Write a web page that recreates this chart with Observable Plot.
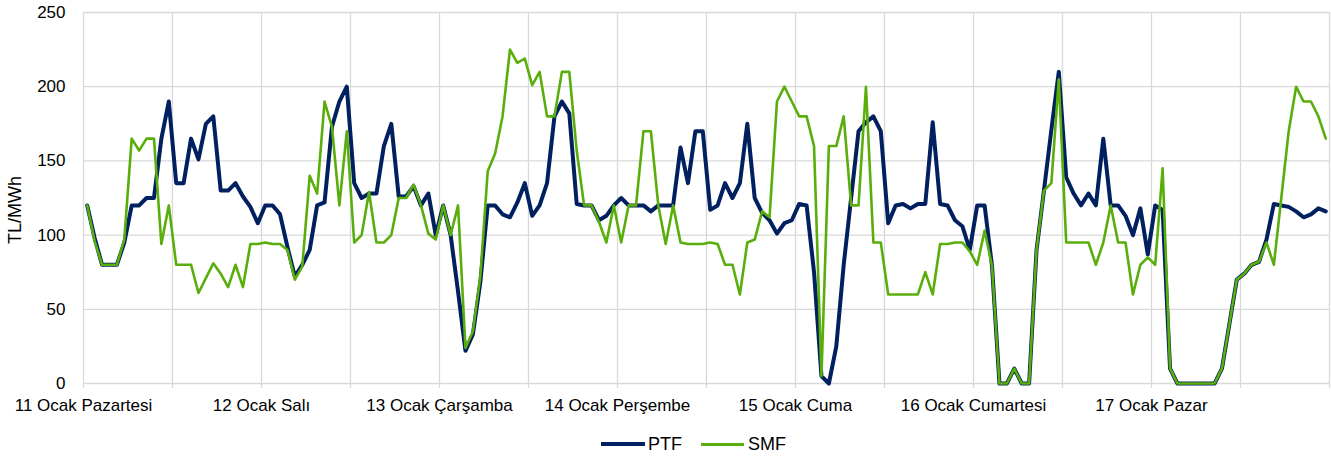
<!DOCTYPE html>
<html><head><meta charset="utf-8">
<script src="https://cdn.jsdelivr.net/npm/d3@7"></script>
<script src="https://cdn.jsdelivr.net/npm/@observablehq/plot@0.6"></script>
<style>
body{margin:0;background:#fff;font-family:"Liberation Sans",Arial,sans-serif;}
#legend{position:relative;height:37px;width:1331px;font-size:18px;color:#000;}
#legend .sw{position:absolute;}
#legend .lb{position:absolute;line-height:18px;white-space:nowrap;}
</style></head><body>
<div id="chart"></div>
<div id="legend">
  <div class="sw" style="left:601px;top:22px;width:44px;height:4px;background:#002060"></div>
  <div class="lb" style="left:648px;top:14.5px">PTF</div>
  <div class="sw" style="left:701px;top:22.5px;width:43px;height:3px;background:#5aae0c"></div>
  <div class="lb" style="left:748px;top:14.5px">SMF</div>
</div>
<script>
const days = ["11 Ocak Pazartesi", "12 Ocak Salı", "13 Ocak Çarşamba", "14 Ocak Perşembe", "15 Ocak Cuma", "16 Ocak Cumartesi", "17 Ocak Pazar"];
const dayStarts = [0, 24, 48, 72, 96, 120, 144];
const halfDayTicks = [0, 12, 24, 36, 48, 60, 72, 84, 96, 108, 120, 132, 144, 156, 168];
const yTicks = [0, 50, 100, 150, 200, 250];

const ptf = [
120,98,80,80,80,95,120,120,125,125,165,190,135,135,165,151,175,180,130,130,135,126,119,108,
120,120,114,92,72,80,90,120,122,173,190,200,135,125,128,128,160,175,126,126,133,120,128,100,
120,100,62,22,33,68,120,120,114,112,122,135,113,120,135,180,190,182,121,120,120,110,113,120,
125,120,120,120,116,120,120,120,159,135,170,170,117,120,135,125,135,175,125,115,110,101,108,110,
121,120,75,5,0,25,80,125,170,176,180,170,108,120,121,118,121,121,176,121,120,110,106,90,
120,120,79,0,0,10,0,0,90,130,171,210,139,128,120,128,120,165,120,120,113,100,118,87,
120,117,10,0,0,0,0,0,0,10,40,70,74,80,82,97,121,120,119,116,112,114,118,116];

const smf = [
120,96,80,80,80,97,165,157,165,165,94,120,80,80,80,61,71,81,74,65,80,65,94,94,
95,94,94,90,70,79,140,128,190,173,120,170,95,100,129,95,95,100,125,125,134,120,101,97,
120,100,120,24,35,72,143,155,180,225,216,219,201,210,180,180,210,210,157,120,120,109,95,120,
95,120,120,170,170,120,94,120,95,94,94,94,95,94,80,80,60,95,97,116,112,190,200,190,
180,180,160,5,160,160,180,120,120,200,95,95,60,60,60,60,60,75,60,94,94,95,95,89,
80,103,79,0,0,10,0,0,90,130,135,205,95,95,95,95,80,95,120,95,95,60,80,85,
80,145,10,0,0,0,0,0,0,10,40,70,74,80,82,95,80,125,170,200,190,190,180,165];

const rows = ptf.map((v, i) => ({hour: i, PTF: v, SMF: smf[i]}));
const gridPos = halfDayTicks.map(h => h - 0.5);
const dayLabel = new Map(dayStarts.map((h, i) => [h - 0.5, days[i]]));

const chart = Plot.plot({
  width: 1331, height: 420,
  marginLeft: 83, marginRight: 2, marginTop: 12, marginBottom: 37,
  style: {fontFamily: "'Liberation Sans', Arial, sans-serif", fontSize: "17px", color: "#000", background: "#fff", overflow: "visible"},
  x: {domain: [-0.5, 167.5]},
  y: {domain: [0, 250]},
  marks: [
    Plot.gridY(yTicks, {stroke: "#d9d9d9", strokeOpacity: 1, strokeWidth: 1.3}),
    Plot.gridX(gridPos, {stroke: "#d9d9d9", strokeOpacity: 1, strokeWidth: 1.3}),
    Plot.axisX(gridPos, {tickSize: 5, stroke: "#d9d9d9", strokeWidth: 1.3, tickFormat: () => "", label: null}),
    Plot.axisX([...dayLabel.keys()], {tickSize: 0, tickPadding: 15, tickFormat: d => dayLabel.get(d), label: null, fontSize: 17, fill: "#000"}),
    Plot.axisY(yTicks, {tickSize: 0, tickPadding: 18, label: null, fontSize: 17, fill: "#000"}),
    Plot.text(["TL/MWh"], {text: d => d, frameAnchor: "middle", textAnchor: "middle", rotate: -90, dx: -691, dy: 12, fontSize: 18, fill: "#000"}),
    Plot.lineY(rows, {x: "hour", y: "PTF", stroke: "#002060", strokeWidth: 4, strokeLinejoin: "round"}),
    Plot.lineY(rows, {x: "hour", y: "SMF", stroke: "#5aae0c", strokeWidth: 2.6, strokeLinejoin: "round"})
  ]
});
document.getElementById("chart").appendChild(chart);
</script>
</body></html>
